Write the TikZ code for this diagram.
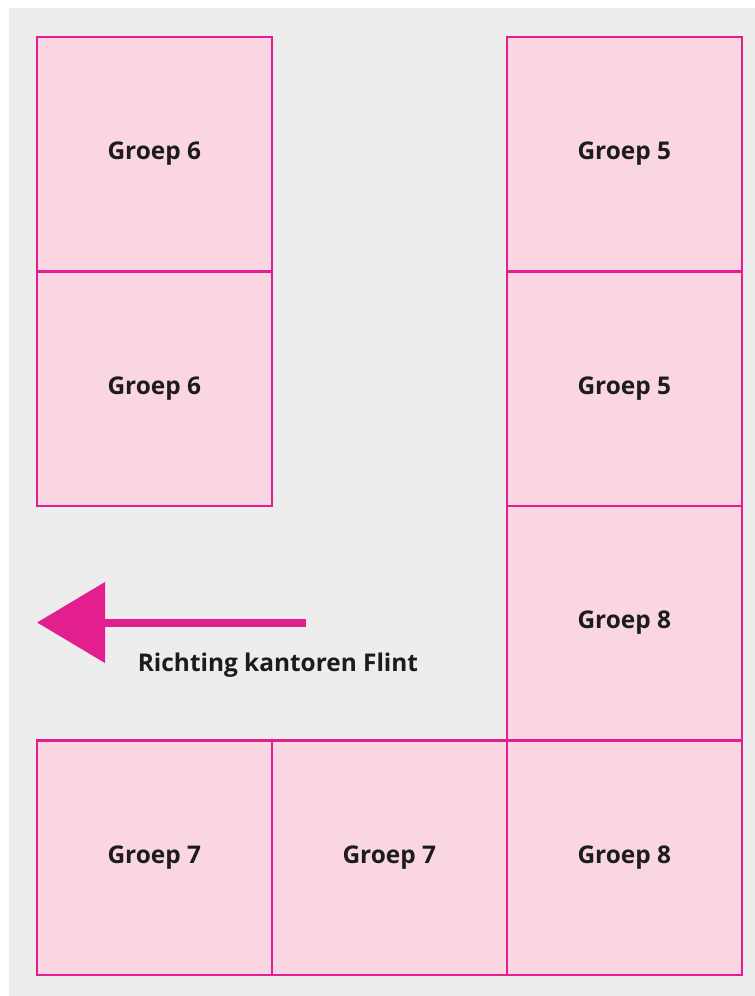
\documentclass[tikz,border=0pt]{standalone}
\usepackage{fontspec}
\setmainfont{Open Sans}
\usetikzlibrary{arrows.meta}
\definecolor{bggray}{HTML}{EDEDED}
\definecolor{pinkline}{HTML}{E31F8F}
\definecolor{pinkfill}{HTML}{FAD6E2}
\definecolor{txt}{HTML}{1C1C1E}
\tikzset{
  cell/.style={draw=pinkline, fill=pinkfill, line width=2.5pt, minimum width=235pt, minimum height=234.5pt, inner sep=0pt, anchor=north west,
    font=\fontsize{24.4}{27}\selectfont\bfseries, text=txt},
  label/.style={font=\fontsize{24.4}{27}\selectfont\bfseries, text=txt, inner sep=0pt},
  bigarrow/.style={draw=pinkline, line width=8pt, -{Triangle[length=68pt, width=79pt]}}
}
\begin{document}
\begin{tikzpicture}[x=1pt, y=-1pt]
\useasboundingbox (0,0) rectangle (755,996);
\fill[bggray] (9,8) rectangle (755,996);
\node[cell] (g6a) at (35.5,35.5) {Groep 6};
\node[cell] (g6b) at (35.5,270) {Groep 6};
\node[cell] (g5a) at (505.5,35.5) {Groep 5};
\node[cell] (g5b) at (505.5,270) {Groep 5};
\node[cell] (g8a) at (505.5,504.5) {Groep 8};
\node[cell] (g7a) at (35.5,739) {Groep 7};
\node[cell] (g7b) at (270.5,739) {Groep 7};
\node[cell] (g8b) at (505.5,739) {Groep 8};
\coordinate (arrowstart) at (306,622.5);
\coordinate (arrowtip) at (37,622.5);
\draw[bigarrow] (arrowstart) -- (arrowtip);
\node[label, anchor=base] (flint) at (278,671) {Richting kantoren Flint};
\end{tikzpicture}
\end{document}
